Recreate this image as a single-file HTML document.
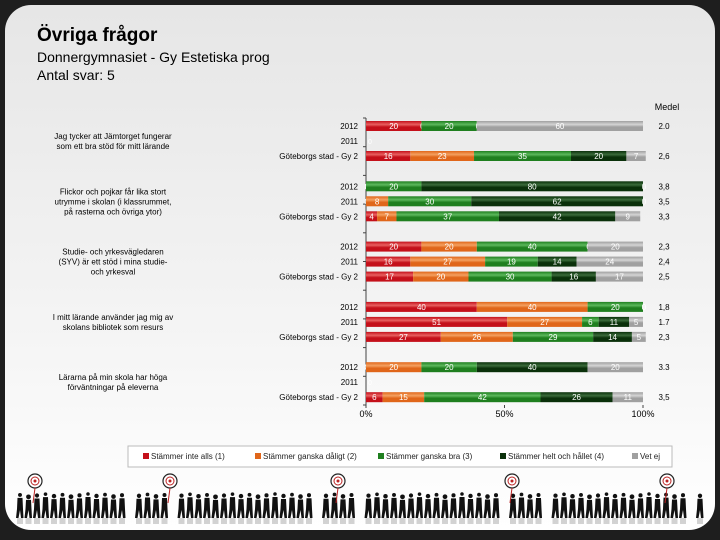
<!DOCTYPE html>
<html><head><meta charset="utf-8"><style>
body{margin:0;width:720px;height:540px;background:#1e1e1e;overflow:hidden;font-family:"Liberation Sans",sans-serif}
#card{position:absolute;left:5px;top:5px;width:710px;height:525px;border-radius:26px;background:linear-gradient(#e6e6e6,#f4f4f4 60%,#fff)}
.t{position:absolute;color:#000}
</style></head><body>
<div id="card"></div>
<div class="t" style="left:37px;top:25px;font-size:19px;font-weight:bold">Övriga frågor</div>
<div class="t" style="left:37px;top:49px;font-size:14px">Donnergymnasiet - Gy Estetiska prog</div>
<div class="t" style="left:37px;top:67px;font-size:14px">Antal svar: 5</div>
<svg id="chart" width="720" height="540" style="position:absolute;left:0;top:0"></svg>
<script>
const questions=["Jag tycker att Jämtorget fungerar|som ett bra stöd för mitt lärande","Flickor och pojkar får lika stort|utrymme i skolan (i klassrummet,|på rasterna och övriga ytor)","Studie- och yrkesvägledaren|(SYV) är ett stöd i mina studie-|och yrkesval","I mitt lärande använder jag mig av|skolans bibliotek som resurs","Lärarna på min skola har höga|förväntningar på eleverna"];
const rowLabels=["2012","2011","Göteborgs stad - Gy 2"];
const categories=["Stämmer inte alls (1)","Stämmer ganska dåligt (2)","Stämmer ganska bra (3)","Stämmer helt och hållet (4)","Vet ej"];
const g1=[[20,0,20,0,60],null,[16,23,35,20,7]];
const g2=[[0,0,20,80,0],[0,8,30,62,0],[4,7,37,42,9]];
const g3=[[20,20,40,0,20],[16,27,19,14,24],[17,20,30,16,17]];
const g4=[[40,40,20,0,0],[51,27,6,11,5],[27,26,29,14,5]];
const g5=[[0,20,20,40,20],null,[6,15,42,26,11]];
const medel=[["2.0","","2,6"],["3,8","3,5","3,3"],["2,3","2,4","2,5"],["1,8","1.7","2,3"],["3.3","","3,5"]];
const ticks=[0,50,100];
const groups=[g1,g2,g3,g4,g5];
const colors=["#c4101a","#e0661a","#1f7f1f","#0a300a","#a0a0a0"];
const light=["#e86060","#f4a060","#5cb85c","#3a6a3a","#d4d4d4"];
const NS="http://www.w3.org/2000/svg",svg=document.getElementById('chart');
const x0=366,x1=643,xs=v=>x0+(x1-x0)*v/100;
const gy=g=>126+g*60.3,ry=(g,r)=>gy(g)+[0,15,30][r];
function mk(t,a,p){const e=document.createElementNS(NS,t);for(const k in a)e.setAttribute(k,a[k]);(p||svg).appendChild(e);return e;}
const defs=mk('defs',{});
colors.forEach((c,i)=>{const lg=mk('linearGradient',{id:'gr'+i,x1:0,y1:0,x2:0,y2:1},defs);mk('stop',{offset:0,'stop-color':c},lg);mk('stop',{offset:0.35,'stop-color':light[i]},lg);mk('stop',{offset:0.6,'stop-color':c},lg);mk('stop',{offset:1,'stop-color':c},lg);});
const ax=mk('line',{x1:x0,y1:118,x2:x0,y2:405,stroke:'#444','stroke-width':1});

const mh=mk('text',{x:667,y:110,'font-size':9,'text-anchor':'middle'});mh.textContent='Medel';

ticks.forEach(t=>{const e=mk('text',{x:xs(t),y:417,'font-size':9,'text-anchor':'middle'});e.textContent=t+'%';

mk('line',{x1:xs(t),y1:405,x2:xs(t),y2:408,stroke:'#444'});});
for(let k=0;k<=10;k++){mk('line',{x1:x0-3,y1:118+k*28.7,x2:x0,y2:118+k*28.7,stroke:'#444'});}
groups.forEach((g,gi)=>{
 const q=questions[gi].split('|');const qy=ry(gi,1)-(q.length-1)*5;
 q.forEach((s,li)=>{const e=mk('text',{x:113,y:qy+li*10+3,'font-size':8,'text-anchor':'middle'});e.textContent=s;
 });
 g.forEach((row,ri)=>{
  const y=ry(gi,ri);
  const l=mk('text',{x:358,y:y+3,'font-size':8,'text-anchor':'end'});l.textContent=rowLabels[ri];
  
  const m=mk('text',{x:664,y:y+3,'font-size':8,'text-anchor':'middle'});m.textContent=medel[gi][ri];
  
  if(!row){const z=mk('text',{x:x0+2,y:y+3,'font-size':7,fill:'#fff'});z.textContent='0';return;}
  let acc=0;
  row.forEach((v,si)=>{
   const xa=xs(acc),xb=xs(acc+v);
   const r=mk('rect',{x:xa,y:y-5,width:Math.max(0,xb-xa),height:10,fill:'url(#gr'+si+')'});
   
   const t=mk('text',{x:v?(xa+xb)/2:xa+1,y:y+3,'font-size':8,'text-anchor':'middle',fill:'#fff'});t.textContent=v;
   
   acc+=v;});
 });
});
const lb=mk('rect',{x:128,y:446,width:544,height:21,fill:'#fff',stroke:'#bbb'});

const lx=[143,255,378,500,632];
categories.forEach((c,i)=>{mk('rect',{x:lx[i],y:453,width:6,height:6,fill:colors[i]});
 const t=mk('text',{x:lx[i]+8,y:459,'font-size':8,fill:'#222'});t.textContent=c;
 });
// silhouettes
const pg=mk('g',{fill:'#111'});
for(let x=20;x<705;x+=8.5){const h=((x*37)%11);if(h>9.5)continue;const s=0.8+h*0.03;
 mk('circle',{cx:x,cy:494+h*0.3,r:2.2*s},pg);
 mk('path',{d:`M${x-2.5} ${497+h*0.3} L${x+2.5} ${497+h*0.3} L${x+3} ${509} L${x+3.5} ${518} L${x+1} ${518} L${x} ${510} L${x-1.5} ${518} L${x-4} ${518} L${x-3} ${509}Z`},pg);}
const rf=mk('g',{fill:'#111',opacity:0.18});
for(let x=20;x<705;x+=8.5){const h=((x*37)%11);if(h>9.5)continue;mk('rect',{x:x-3,y:518,width:6,height:6},rf);}
[35,170,338,512,667].forEach(x=>{mk('circle',{cx:x,cy:481,r:7,fill:'#fff',stroke:'#222','stroke-width':1.2});
 mk('circle',{cx:x,cy:481,r:4,fill:'none',stroke:'#b22','stroke-width':1});mk('circle',{cx:x,cy:481,r:1.5,fill:'#b22'});
 mk('line',{x1:x,y1:488,x2:x-2,y2:503,stroke:'#b22'});});
</script>
</body></html>
